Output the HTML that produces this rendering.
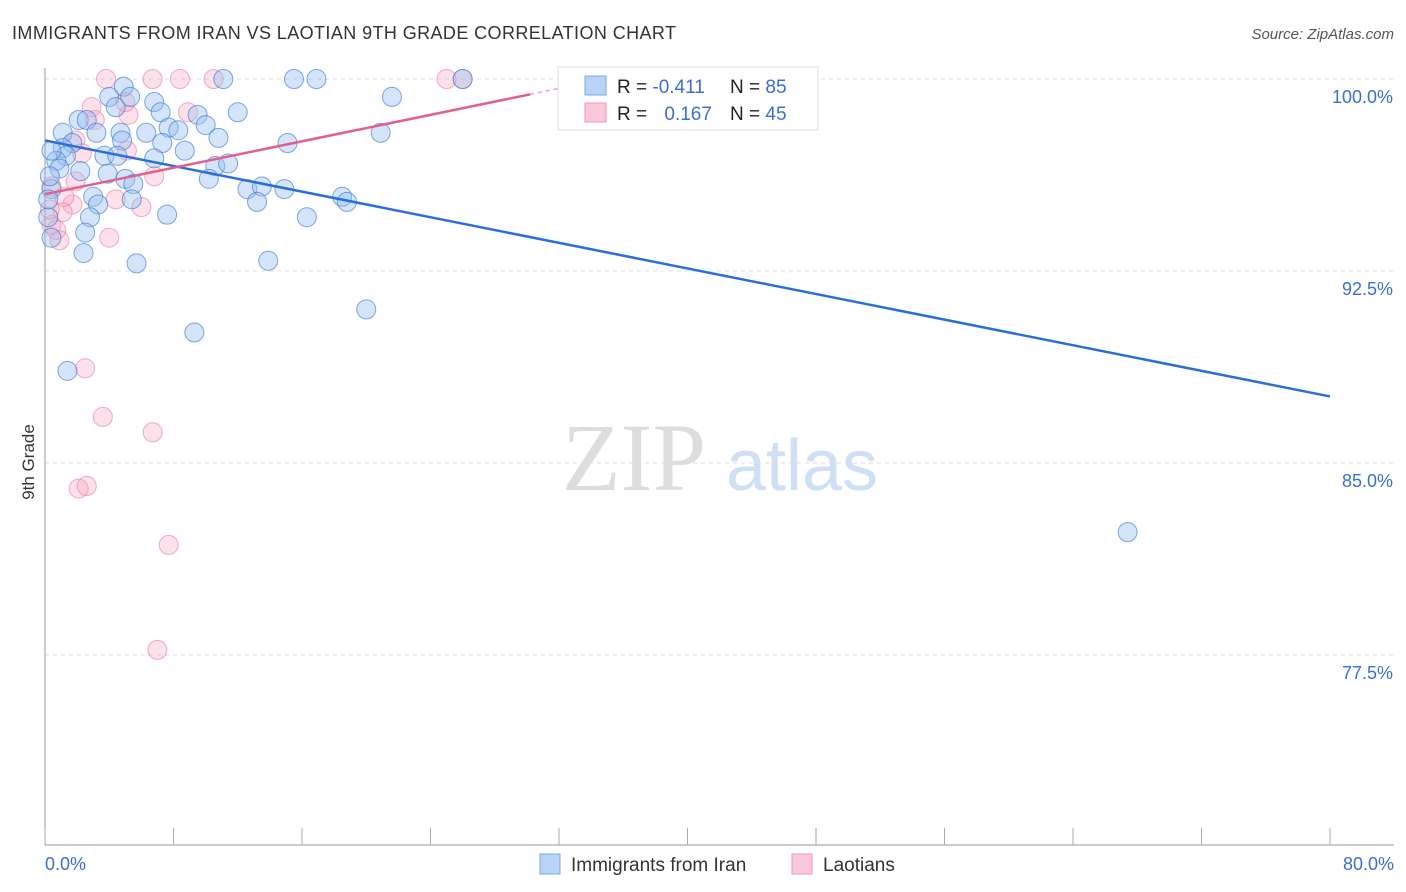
<!DOCTYPE html>
<html><head><meta charset="utf-8"><style>
body{margin:0;background:#fff;font-family:"Liberation Sans",sans-serif;}
svg{display:block}
</style></head><body>
<svg id="chart" width="1406" height="892">
<text x="12" y="39" font-size="18" fill="#333" textLength="664">IMMIGRANTS FROM IRAN VS LAOTIAN 9TH GRADE CORRELATION CHART</text>
<text x="1394" y="39" font-size="15" fill="#555" font-style="italic" text-anchor="end">Source: ZipAtlas.com</text>
<text x="0" y="0" transform="translate(34,462) rotate(-90)" font-size="17" fill="#333" text-anchor="middle">9th Grade</text>
<g><text x="634" y="490" font-size="96" fill="#ddd" font-family="Liberation Serif,serif" text-anchor="middle">ZIP</text><text x="802" y="490" font-size="72" fill="#cfe0f5" text-anchor="middle">atlas</text></g>
<g id="grid"></g><g id="axes"></g><g id="pts"></g><g id="trends"></g>
<g>
<rect x="558" y="67" width="260" height="63" fill="#fff" stroke="#ddd"/>
<rect x="585" y="76" width="21" height="19" fill="#b9d3f5" stroke="#7aa8e6"/>
<rect x="585" y="103" width="21" height="19" fill="#fac8d7" stroke="#ef9ab4"/>
<text x="617" y="93" font-size="19" fill="#222">R = <tspan fill="#3a6fd0">-0.411</tspan></text>
<text x="730" y="93" font-size="19" fill="#222">N = <tspan fill="#3a6fd0">85</tspan></text>
<text x="617" y="120" font-size="19" fill="#222">R = <tspan fill="#3a6fd0" dx="12">0.167</tspan></text>
<text x="730" y="120" font-size="19" fill="#222">N = <tspan fill="#3a6fd0">45</tspan></text>
</g>
<g>
<rect x="540" y="854" width="20" height="20" fill="#b9d3f5" stroke="#7aa8e6"/>
<text x="571" y="871" font-size="19" fill="#333">Immigrants from Iran</text>
<rect x="792" y="854" width="20" height="20" fill="#fac8d7" stroke="#ef9ab4"/>
<text x="823" y="871" font-size="19" fill="#333">Laotians</text>
</g>
</svg>
<script>
const yTicks=[100,92.5,85,77.5];
const yTickLabels=["100.0%","92.5%","85.0%","77.5%"];
const xTickLabels=["0.0%","80.0%"];
const iranX=[4.9,15.5,16.9,11.1,26,21.6,5.3,4.0,6.8,12,7.2,9.5,2.1,2.6,4.4,1.1,3.2,4.7,6.3,7.7,8.3,10,10.8,20.9,15.1,7.3,4.8,1.7,1.1,8.7,3.7,4.5,1.3,0.7,6.8,10.6,11.4,0.9,2.2,3.9,5.0,10.2,5.5,12.6,13.5,14.9,0.4,3.0,5.4,3.3,13.2,18.5,18.8,16.3,7.6,2.8,2.5,0.2,0.4,2.4,5.7,13.9,20.0,9.3,1.4,67.4,0.4,0.3,0.2];
const iranY=[99.7,100,100,100,100,99.3,99.3,99.3,99.1,98.7,98.7,98.6,98.4,98.4,98.9,97.9,97.9,97.9,97.9,98.1,98.0,98.2,97.7,97.9,97.5,97.5,97.6,97.5,97.3,97.2,97.0,97.0,97.0,96.8,96.9,96.6,96.7,96.5,96.4,96.3,96.1,96.1,95.9,95.7,95.8,95.7,95.7,95.4,95.3,95.1,95.2,95.4,95.2,94.6,94.7,94.6,94.0,94.6,93.8,93.2,92.8,92.9,91.0,90.1,88.6,82.3,97.2,96.2,95.3];
const laoX=[3.8,6.7,8.4,10.5,25,26,2.9,5.2,8.9,5.0,1.9,2.3,5.1,6.8,1.9,0.4,4.4,6.0,1.7,1.1,0.4,0.7,0.9,4.0,2.5,3.6,6.7,2.1,2.6,7.7,7.0,0.3,1.2,3.1];
const laoY=[100,100,100,100,100,100,98.9,98.6,98.7,99.1,97.6,97.1,97.2,96.2,96.0,95.8,95.3,95.0,95.1,94.8,94.3,94.1,93.7,93.8,88.7,86.8,86.2,84.0,84.1,81.8,77.7,94.9,95.4,98.4];
const iranTrend=[97.6,87.6]; // at x=0 and x=80
const laoTrend=[95.5,99.4,30.2]; // y at 0, y at end, end x
const NS="http://www.w3.org/2000/svg";
const X=v=>45+v*1285/80, Y=v=>79+(100-v)*192/7.5;
function mk(t,a,p){const e=document.createElementNS(NS,t);for(const k in a)e.setAttribute(k,a[k]);document.getElementById(p).appendChild(e);return e;}
yTicks.forEach((t,i)=>{
 const g=mk('line',{x1:45,x2:1394,y1:Y(t),y2:Y(t),stroke:'#ddd','stroke-dasharray':'4,4'},'grid');
 
 
 const l=mk('text',{x:1393,y:Y(t)+24,'font-size':18,fill:'#3a6fd0','text-anchor':'end'},'axes');l.textContent=yTickLabels[i];
 
 
});
mk('line',{x1:45,x2:45,y1:68,y2:845,stroke:'#999'},'axes');
mk('line',{x1:45,x2:1394,y1:845,y2:845,stroke:'#999'},'axes');
for(let i=0;i<=10;i++){const t=mk('line',{x1:X(i*8),x2:X(i*8),y1:828,y2:845,stroke:'#aaa'},'axes');
 
 }
[[0,45,'start'],[1,1394,'end']].forEach(([i,x,a])=>{const l=mk('text',{x:x,y:870,'font-size':18,fill:'#3a6fd0','text-anchor':a},'axes');l.textContent=xTickLabels[i];
 
 });
laoX.forEach((v,i)=>{const c=mk('circle',{cx:X(v),cy:Y(laoY[i]),r:9.5,fill:'rgba(246,170,195,0.35)',stroke:'rgba(232,120,160,0.6)'},'pts');
 
 });
iranX.forEach((v,i)=>{const c=mk('circle',{cx:X(v),cy:Y(iranY[i]),r:9.5,fill:'rgba(150,190,240,0.4)',stroke:'rgba(60,120,210,0.65)'},'pts');
 
 });
const bt=mk('line',{x1:X(0),y1:Y(iranTrend[0]),x2:X(80),y2:Y(iranTrend[1]),stroke:'#2a6fd6','stroke-width':2.5},'trends');


const pt=mk('line',{x1:X(0),y1:Y(laoTrend[0]),x2:X(laoTrend[2]),y2:Y(laoTrend[1]),stroke:'#e0608e','stroke-width':2.5},'trends');


const slope=(laoTrend[1]-laoTrend[0])/laoTrend[2];
const pd=mk('line',{x1:X(laoTrend[2]),y1:Y(laoTrend[1]),x2:X(laoTrend[2]+3),y2:Y(laoTrend[1]+slope*3),stroke:'#f0a0bc','stroke-width':1.5,'stroke-dasharray':'4,4'},'trends');


</script>
</body></html>
